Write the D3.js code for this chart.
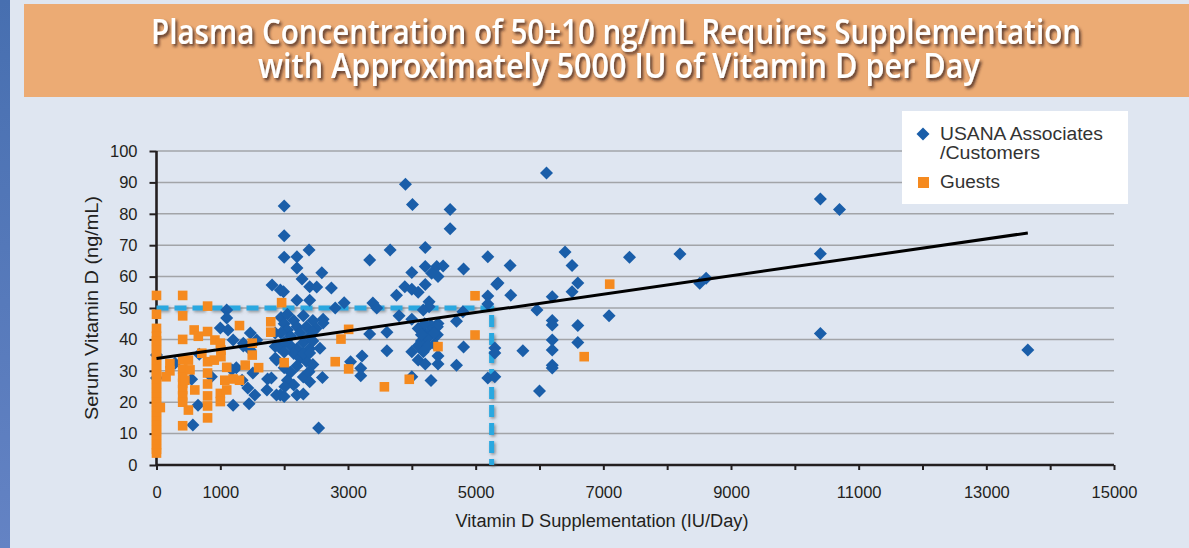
<!DOCTYPE html>
<html lang="en">
<head>
<meta charset="UTF-8">
<title>Vitamin D</title>
<script src="https://cdn.jsdelivr.net/npm/d3@7"></script>
<style>
  body { margin: 0; background: #dfe6f1; }
  svg { display: block; }
</style>
</head>
<body>
<svg width="1189" height="548" id="mainsvg"></svg>
<script>
// ---- data ----
const titleLines = ['Plasma Concentration of 50\u00b110 ng/mL Requires Supplementation',
                    'with Approximately 5000 IU of Vitamin D per Day'];
const seriesNames = ['USANA Associates', '/Customers', 'Guests'];
const xTickLabels = [0, 1000, 3000, 5000, 7000, 9000, 11000, 13000, 15000];
const yTicks = [0, 10, 20, 30, 40, 50, 60, 70, 80, 90, 100];

// USANA Associates / Customers  [IU/day, ng/mL]
const usana = [
  [0,27.7],[0,35],[290,32.4],[550,27.3],[650,19],[570,12.7],[860,28.1],[670,35.3],[1000,43.6],[1120,43],
  [1100,49.4],[1100,46.8],[1200,39.8],[1180,30.3],[1200,19],[1430,24.5],[1540,22.3],[1450,19.5],[1470,42],
  [1510,29.3],[1340,27],[1360,38.8],[1250,31],[1570,39.8],[1470,36.6],[1360,37.9],
  [1810,57.3],[1940,55.7],[1740,27.4],[1730,23.9],[1860,37.7],[1860,34],[1860,42],[1920,37.6],[1940,22.3],
  [1880,22.3],[1800,27.7],[1880,33.4],[1990,55.2],
  [2000,82.5],[2000,73],[2000,66.2],[2200,66.3],[2200,62.7],[2280,59.2],[2390,68.5],[2590,61.2],[2400,56.8],
  [2510,56.7],[2740,56.4],[2200,52.5],[2400,52.5],[2800,50],[2940,51.7],
  [1950,47],[2000,45],[2050,43],[2100,41],[2150,46],[2200,44],[2250,42],[2300,47.5],[2350,44],[2400,41],
  [2450,46],[2100,38],[2000,39],[2200,37],[2300,39],[2400,37],[1950,42],[2050,48],[2150,35.5],[2250,34],
  [2350,33],[2000,31],[2100,29.5],[2200,31.5],[2300,28],[2450,32],[2050,27],[2150,25.5],[2000,36],
  [2300,35.5],[2450,39.5],[2500,43.5],
  [2610,46.4],[2610,45.2],[2560,37.2],[2400,35.7],[2390,29.7],[2400,26.5],[2200,22.3],[2300,22.6],[2000,21.8],
  [2010,24.9],[2600,27.9],[2540,11.8],[2450,42.5],
  [3340,65.3],[3660,68.5],[3390,51.6],[3450,50],[3760,54.1],[3890,56.8],[3800,47.5],[3340,41.7],[3610,42.3],
  [3610,36.4],[3220,34.7],[3200,30.8],[3040,32.9],[3200,28.4],
  [3900,89.4],[4010,83],[4600,81.4],[4600,75.2],[4210,69.3],[5190,66.3],[4000,61.3],[4210,63.2],[4390,63.2],
  [4490,63.4],[4310,61.1],[4410,60],[4810,62.4],[4000,56],[4100,55],[4210,57.5],[5190,53.8],[5190,51.3],
  [5330,57.6],[4270,52],[4270,50.4],[4180,49.4],[4000,46.4],[4700,45.8],[4800,48.8],[4410,45.1],
  [4100,43.5],[4200,42],[4300,43],[4400,41.5],[4150,39.5],[4250,40.5],[4350,38.5],[4100,38],[4300,44.5],
  [4200,45],[4400,44],[4250,37.8],[4150,41.5],[4350,42],
  [4000,36.1],[4180,36.1],[4410,34.7],[4810,37.6],[4100,33.4],[4210,32.2],[4410,32.2],[4700,31.8],
  [4000,28.1],[4300,26.9],[5190,27.7],[5300,28.1],[5300,37.3],[5300,35.7],
  [6110,93],[5540,63.5],[6400,67.8],[6510,63.5],[7410,66.2],[5350,58],[6600,58],[6510,55.2],[5550,54.1],
  [6200,53.6],[5960,49.4],[6200,46],[6200,44.6],[6600,44.4],[7090,47.5],[6200,39.8],[6600,39],[6200,36.6],
  [5740,36.4],[6200,31.8],[6200,30.9],[6000,23.6],
  [10400,84.7],[10700,81.4],[8200,67.2],[10400,67.3],[8510,57.9],[8610,59.5],[10400,41.9],[13650,36.6]
];

// Guests  [IU/day, ng/mL]
const guests = [
  [0,54],[0,48],[0,43.5],[0,41],[0,39.5],[0,38],[0,36.5],[0,35],[0,33.5],[0,32],[0,30.5],[0,29],[0,27.5],
  [0,26],[0,24.5],[0,23],[0,21.5],[0,20],[0,18.5],[0,17],[0,15.5],[0,14],[0,12.5],[0,11],[0,9.5],[0,8],
  [0,6.5],[0,5],[0,3.8],
  [60,18.3],[210,32.3],[210,30],[150,28.1],
  [410,54],[410,47.5],[410,40],[410,33.5],[410,30.5],[410,28],[410,26],[410,24],[410,22],[410,20],[410,12.5],
  [590,43],[655,41],[800,50.6],[800,42.5],[915,39.8],[1000,38.8],[500,33.4],[525,30.3],[600,23.9],[500,17.5],
  [445,27],[800,32.9],[905,33.4],[1010,34.5],[1010,36.6],[1100,31.1],[1200,27.4],[1070,27],[1000,22.8],
  [1000,20.2],[1100,23.9],[800,29.3],[800,25.8],[800,22],[800,18.8],[800,15],[710,35.6],
  [1300,44.4],[1390,31.8],[1500,38.8],[1500,35],[1600,31],[1300,27],[1790,45.6],[1790,42.3],[1960,51.7],
  [2000,32.6],[3010,43.2],[2890,40.1],[2800,32.9],[3010,30.6],[3570,24.9],[3960,27.3],
  [4990,53.9],[4990,41.4],[4410,37.7],[7100,57.6],[6700,34.5]
];

// fitted trend line and the 50 ng/mL guide
const trendIntercept = 33.9;
const trendSlope = 0.00293;
const trendRange = [0, 13650];
const target = 50;
const targetDose = 5250;

// ---- layout ----
const svg = d3.select('#mainsvg');
const margin = { top: 151, left: 156.5, right: 75, bottom: 83 };
const width = +svg.attr('width');
const height = +svg.attr('height');
const innerWidth = width - margin.left - margin.right;
const innerHeight = height - margin.top - margin.bottom;
const font = '"Liberation Sans", Arial, Helvetica, sans-serif';

const defs = svg.append('defs');
const grad = defs.append('linearGradient').attr('id', 'strip').attr('x1', 0).attr('y1', 0).attr('x2', 0).attr('y2', 1);
grad.append('stop').attr('offset', '0%').attr('stop-color', '#476fb0');
grad.append('stop').attr('offset', '100%').attr('stop-color', '#6483c4');
defs.append('filter').attr('id', 'tshadow').attr('x', '-5%').attr('y', '-20%').attr('width', '110%').attr('height', '150%')
  .append('feDropShadow').attr('dx', 2).attr('dy', 2.5).attr('stdDeviation', 1.8)
  .attr('flood-color', '#2e1f12').attr('flood-opacity', 0.8);
defs.append('filter').attr('id', 'lshadow').attr('x', '-10%').attr('y', '-10%').attr('width', '120%').attr('height', '120%')
  .append('feDropShadow').attr('dx', 1.5).attr('dy', 1.5).attr('stdDeviation', 1.5)
  .attr('flood-color', '#555').attr('flood-opacity', 0.6);

// background pieces
svg.append('rect').attr('width', width).attr('height', height).attr('fill', '#dfe6f1');
svg.append('rect').attr('x', 0).attr('y', 0).attr('width', 10).attr('height', height).attr('fill', 'url(#strip)');
svg.append('rect').attr('x', 24).attr('y', 4).attr('width', width - 24).attr('height', 93).attr('fill', '#ecab74');

// title
const title = svg.append('text')
  .attr('fill', '#ffffff')
  .attr('font-family', '"Open Sans", "Liberation Sans Narrow", sans-serif')
  .attr('font-weight', 600)
  .attr('font-size', 35)
  .attr('text-anchor', 'middle')
  .attr('filter', 'url(#tshadow)');
title.append('tspan').attr('x', 616).attr('y', 44).attr('textLength', 930).attr('lengthAdjust', 'spacingAndGlyphs').text(titleLines[0]);
title.append('tspan').attr('x', 619).attr('y', 78).attr('textLength', 722).attr('lengthAdjust', 'spacingAndGlyphs').text(titleLines[1]);

const g = svg.append('g').attr('transform', `translate(${margin.left},${margin.top})`);

const x = d3.scaleLinear().domain([0, 15000]).range([0, innerWidth]);
const y = d3.scaleLinear().domain([0, 100]).range([innerHeight, 0]);

// gridlines
g.selectAll('.grid').data(yTicks.slice(1)).enter()
  .append('line')
  .attr('x1', 0).attr('x2', innerWidth)
  .attr('y1', d => y(d)).attr('y2', d => y(d))
  .attr('stroke', '#a2a4a8').attr('stroke-width', 1.5);

// axes
const yAxis = g.append('g')
  .call(d3.axisLeft(y).tickValues(yTicks).tickSize(7).tickPadding(12));
const xAxis = g.append('g')
  .attr('transform', `translate(0,${innerHeight})`)
  .call(d3.axisBottom(x).tickValues(d3.range(0, 15001, 1000)).tickSize(5).tickPadding(16)
    .tickFormat(d => xTickLabels.includes(d) ? d : ''));
[xAxis, yAxis].forEach(a => {
  a.select('.domain').attr('stroke', '#231f20').attr('stroke-width', 2.6);
  a.selectAll('.tick line').attr('stroke', '#231f20').attr('stroke-width', 2);
  a.selectAll('.tick text').attr('fill', '#231f20').attr('font-size', 16.5).attr('font-family', font);
  a.selectAll('.tick text').filter(function() { return this.textContent === ''; }).remove();
});
yAxis.select('.domain').attr('d', `M0,${innerHeight}V0`);
xAxis.select('.domain').attr('d', `M0,0H${innerWidth}`);

// axis titles
svg.append('text')
  .attr('transform', `translate(98,${margin.top + innerHeight / 2}) rotate(-90)`)
  .attr('text-anchor', 'middle')
  .attr('font-family', font).attr('font-size', 19).attr('fill', '#231f20')
  .attr('textLength', 224).attr('lengthAdjust', 'spacingAndGlyphs')
  .text('Serum Vitamin D (ng/mL)');
svg.append('text')
  .attr('x', 602).attr('y', 527)
  .attr('text-anchor', 'middle')
  .attr('font-family', font).attr('font-size', 18).attr('fill', '#231f20')
  .attr('textLength', 293).attr('lengthAdjust', 'spacingAndGlyphs')
  .text('Vitamin D Supplementation (IU/Day)');

// 50 ng/mL guide, dashed
g.append('path')
  .attr('d', d3.line()([[x(0), y(target)], [x(targetDose), y(target)], [x(targetDose), y(0)]]))
  .attr('fill', 'none')
  .attr('stroke', '#2aa8e0').attr('stroke-width', 5)
  .attr('stroke-dasharray', '12,6')
  .attr('filter', 'url(#lshadow)');

// points
const diamond = 'M0,-6.5L6.5,0L0,6.5L-6.5,0Z';
g.selectAll('.usana').data(usana).enter()
  .append('path')
  .attr('d', diamond)
  .attr('transform', d => `translate(${x(d[0])},${y(d[1])})`)
  .attr('fill', '#1a5ea9');

g.selectAll('.guest').data(guests).enter()
  .append('rect')
  .attr('x', d => x(d[0]) - 4.8).attr('y', d => y(d[1]) - 4.8)
  .attr('width', 9.6).attr('height', 9.6)
  .attr('fill', '#f58a1f');

// trend line
g.append('line')
  .attr('x1', x(trendRange[0])).attr('y1', y(trendIntercept + trendSlope * trendRange[0]))
  .attr('x2', x(trendRange[1])).attr('y2', y(trendIntercept + trendSlope * trendRange[1]))
  .attr('stroke', '#000').attr('stroke-width', 3);

// legend
const legend = svg.append('g');
legend.append('rect').attr('x', 902).attr('y', 111).attr('width', 226).attr('height', 93).attr('fill', '#ffffff');
legend.append('path').attr('d', diamond).attr('transform', 'translate(923,134)').attr('fill', '#1a5ea9');
legend.append('rect').attr('x', 918).attr('y', 177).attr('width', 11).attr('height', 11).attr('fill', '#f58a1f');
legend.selectAll('.lt').data([[seriesNames[0], 140, 163], [seriesNames[1], 159, 100], [seriesNames[2], 188, 60]]).enter()
  .append('text')
  .attr('x', 940).attr('y', d => d[1])
  .attr('font-family', font).attr('font-size', 18).attr('fill', '#333')
  .attr('textLength', d => d[2]).attr('lengthAdjust', 'spacingAndGlyphs')
  .text(d => d[0]);
</script>
</body>
</html>
